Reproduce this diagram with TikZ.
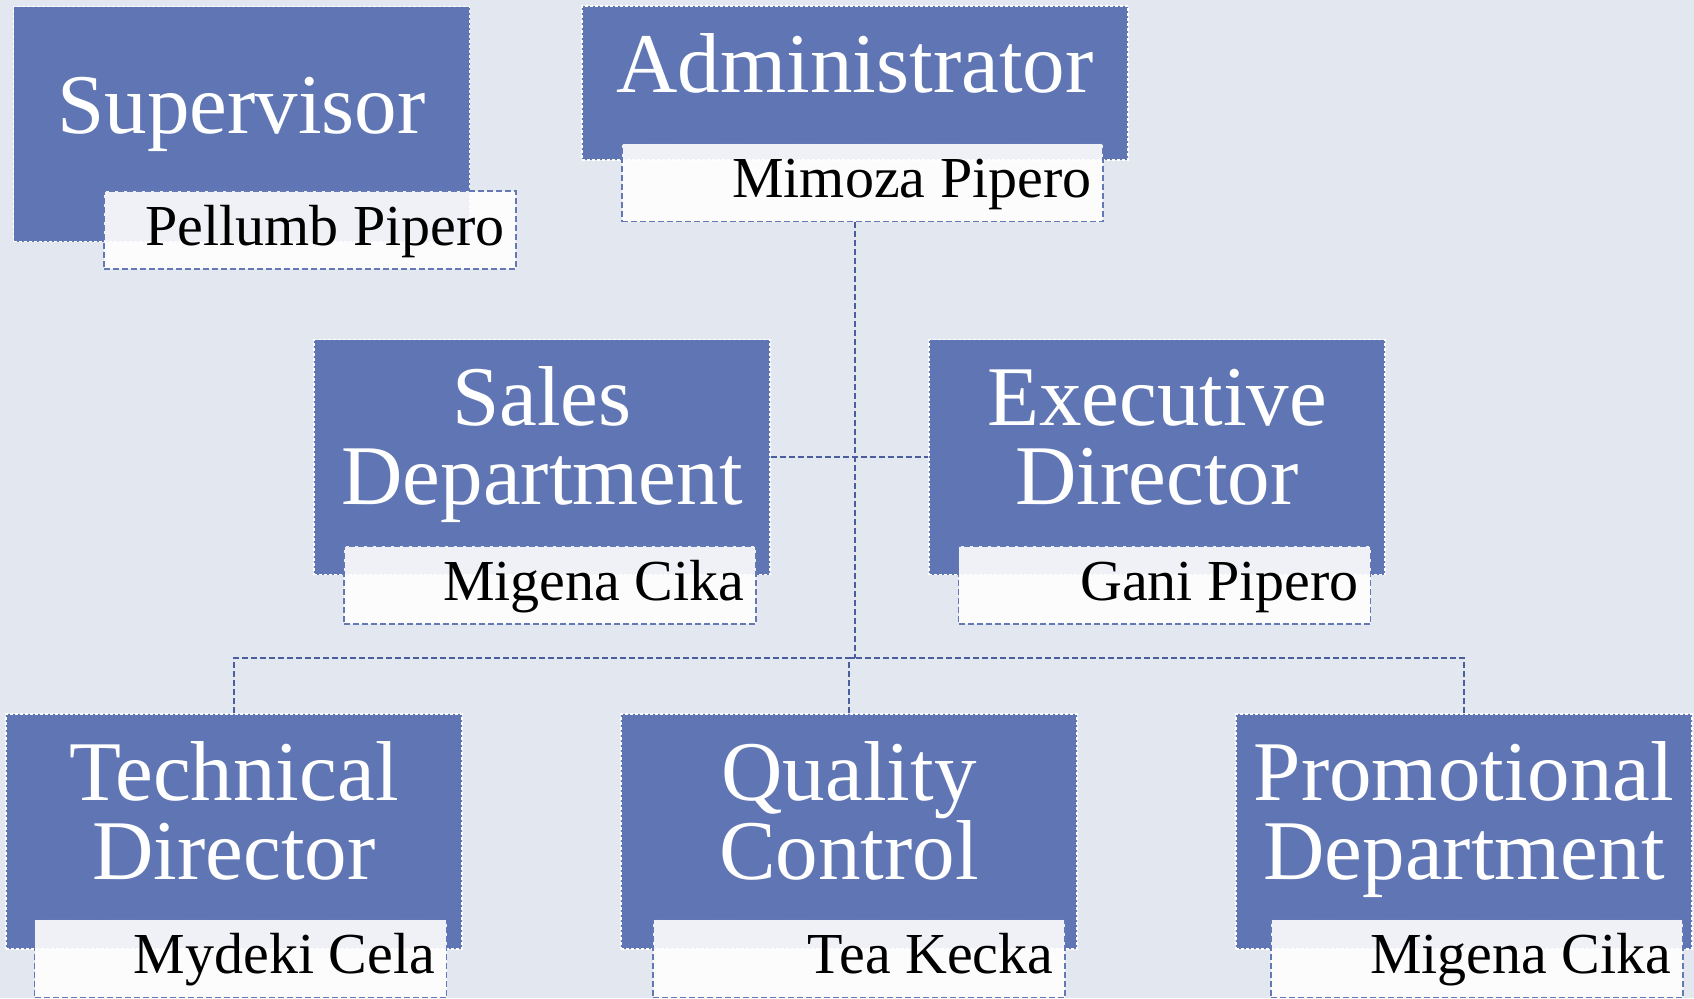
\documentclass[tikz,border=0pt]{standalone}
\usepackage{fontspec}
\setmainfont{Liberation Serif}
\usepackage{tikz}

\definecolor{boxblue}{HTML}{6076B4}
\definecolor{bgcol}{HTML}{E3E8F0}
\definecolor{linkblue}{HTML}{4A5E9E}
\definecolor{nameedge}{HTML}{6378B5}

\begin{document}
\begin{tikzpicture}[x=0.5pt,y=-0.5pt,
		unit/.style={rectangle, fill=boxblue, draw=white, line width=0.8pt, dash pattern=on 1.5pt off 1pt, minimum width=228pt, minimum height=117.5pt, inner sep=0pt},
		holder/.style={rectangle, fill=white, fill opacity=0.9, draw=nameedge, line width=0.8pt, dash pattern=on 3pt off 1.5pt, minimum width=206pt, minimum height=39pt, inner sep=0pt},
		title/.style={text=white, align=center, font=\fontsize{42.5pt}{39.5pt}\selectfont, inner sep=0pt, anchor=base},
		person/.style={text=black, font=\fontsize{29pt}{34pt}\selectfont, inner sep=0pt, anchor=base east},
		link/.style={draw=linkblue, line width=1.1pt, dash pattern=on 3pt off 1.5pt}]
		\fill[bgcol] (0,0) rectangle (1694,998);
		\useasboundingbox (0,0) rectangle (1694,998);
		% top row
		\node[unit] (sup) at (241.5,124) {};
		\node[holder] (supn) at (310,230) {};
		\node[title] (supt) at ([shift={(0,128)}]sup.north) {Supervisor};
		\node[person] (supp) at ([shift={(-12,55)}]supn.north east) {Pellumb Pipero};
		\node[unit, minimum width=273pt, minimum height=77pt] (adm) at (855,83) {};
		\node[holder, minimum width=240.5pt] (admn) at (862.5,182.5) {};
		\node[title] (admt) at ([shift={(0,87)}]adm.north) {Administrator};
		\node[person] (admp) at ([shift={(-12,55)}]admn.north east) {Mimoza Pipero};
		% assistants
		\node[unit] (sales) at (542,457) {};
		\node[holder] (salesn) at (550,585) {};
		\node[title] (salest) at ([shift={(0,166)}]sales.north) {Sales\\Department};
		\node[person] (salesp) at ([shift={(-12,55)}]salesn.north east) {Migena Cika};
		\node[unit] (exec) at (1157,457) {};
		\node[holder] (execn) at (1164.5,585) {};
		\node[title] (exect) at ([shift={(0,166)}]exec.north) {Executive\\Director};
		\node[person] (execp) at ([shift={(-12,55)}]execn.north east) {Gani Pipero};
		% bottom row
		\node[unit] (tech) at (234,831.5) {};
		\node[holder] (techn) at (240.5,958.5) {};
		\node[title] (techt) at ([shift={(0,166)}]tech.north) {Technical\\Director};
		\node[person] (techp) at ([shift={(-12,55)}]techn.north east) {Mydeki Cela};
		\node[unit] (qual) at (849,831.5) {};
		\node[holder] (qualn) at (859,958.5) {};
		\node[title] (qualt) at ([shift={(0,166)}]qual.north) {Quality\\Control};
		\node[person] (qualp) at ([shift={(-12,55)}]qualn.north east) {Tea Kecka};
		\node[unit] (promo) at (1464,831.5) {};
		\node[holder] (promon) at (1477,958.5) {};
		\node[title] (promot) at ([shift={(0,166)}]promo.north) {Promotional\\Department};
		\node[person] (promop) at ([shift={(-12,55)}]promon.north east) {Migena Cika};
		% connectors
		\coordinate (bus) at (855,658);
		\draw[link] (adm.south |- admn.south) -- (bus);
		\draw[link] (sales.east) -- (exec.west);
		\draw[link] (tech.north) |- (bus);
		\draw[link] (qual.north) |- (bus);
		\draw[link] (promo.north) |- (bus);
	\end{tikzpicture}
\end{document}
